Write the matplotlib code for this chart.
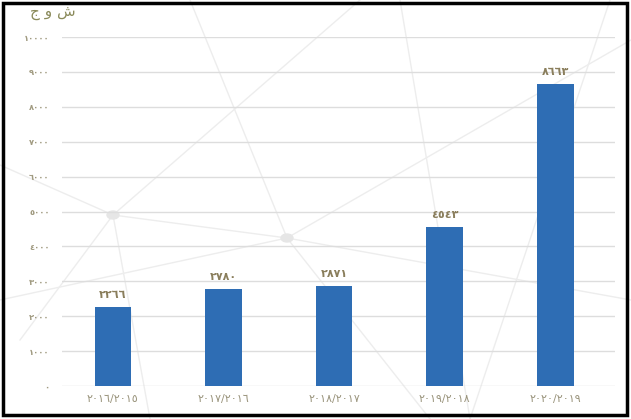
import matplotlib.pyplot as plt
from matplotlib.lines import Line2D
from matplotlib.patches import Rectangle, Circle

# data
years = ["٢٠١٦/٢٠١٥", "٢٠١٧/٢٠١٦", "٢٠١٨/٢٠١٧", "٢٠١٩/٢٠١٨", "٢٠٢٠/٢٠١٩"]
values = [2266, 2780, 2871, 4543, 8663]
value_labels = ["٢٢٦٦", "٢٧٨٠", "٢٨٧١", "٤٥٤٣", "٨٦٦٣"]
yticks = list(range(0, 10001, 1000))
ytick_labels = ["٠", "١٠٠٠", "٢٠٠٠", "٣٠٠٠", "٤٠٠٠", "٥٠٠٠",
                "٦٠٠٠", "٧٠٠٠", "٨٠٠٠", "٩٠٠٠", "١٠٠٠٠"]

W, H = 631, 419
fig = plt.figure(figsize=(W / 100, H / 100), dpi=100)
fig.patch.set_facecolor("white")

# faint background network decoration (pixel coords -> figure fraction)
def fx(p):
    return p / W

def fy(p):
    return 1 - p / H

deco = [((190, 0), (287, 238)), ((287, 238), (631, 40)), ((113, 215), (0, 165)),
        ((113, 215), (360, 0)), ((287, 238), (430, 419)), ((20, 340), (113, 215)),
        ((610, 0), (470, 419)), ((113, 215), (287, 238)), ((287, 238), (631, 300)),
        ((113, 215), (150, 419)), ((0, 300), (287, 238)), ((400, 0), (470, 419))]
for (x0, y0), (x1, y1) in deco:
    fig.add_artist(Line2D([fx(x0), fx(x1)], [fy(y0), fy(y1)], color="#ededed",
                          lw=1, zorder=0))
for cx, cy in [(113, 215), (287, 238)]:
    fig.add_artist(Circle((fx(cx), fy(cy)), 6 / W, color="#e6e6e6", zorder=0,
                          transform=fig.transFigure))

ax = fig.add_axes([62 / W, 1 - 386 / H, (615 - 62) / W, (386 - 37) / H])
ax.set_facecolor("none")

x = list(range(len(years)))
bars = ax.bar(x, values, width=0.33, color="#2e6db4", zorder=3)
for b, lab in zip(bars, value_labels):
    ax.text(b.get_x() + b.get_width() / 2, b.get_height() + 200, lab,
            ha="center", va="bottom", fontsize=8, color="#8a7e5c", fontweight="bold")

ax.set_xlim(-0.46, 4.54)
ax.set_ylim(0, 10000)
ax.set_yticks(yticks)
ax.set_yticklabels(ytick_labels, fontsize=6, color="#a09a80", fontweight="bold")
ax.set_xticks(x)
ax.set_xticklabels(years, fontsize=8, color="#9a947c")
ax.tick_params(length=0, pad=9, axis="y")
ax.tick_params(length=0, pad=6, axis="x")
ax.grid(axis="y", color="#dddddd", lw=1, zorder=0)
for s in ax.spines.values():
    s.set_visible(False)

# title at top left
fig.text(fx(30), fy(5), "ج و ش", fontsize=11, color="#8a8a5a", ha="left", va="top")

# black frame
fig.add_artist(Rectangle((fx(3), fy(415)), fx(624), 412 / H, fill=False,
                         ec="black", lw=2.5, transform=fig.transFigure, zorder=10))

fig.savefig("out.png", dpi=100)
